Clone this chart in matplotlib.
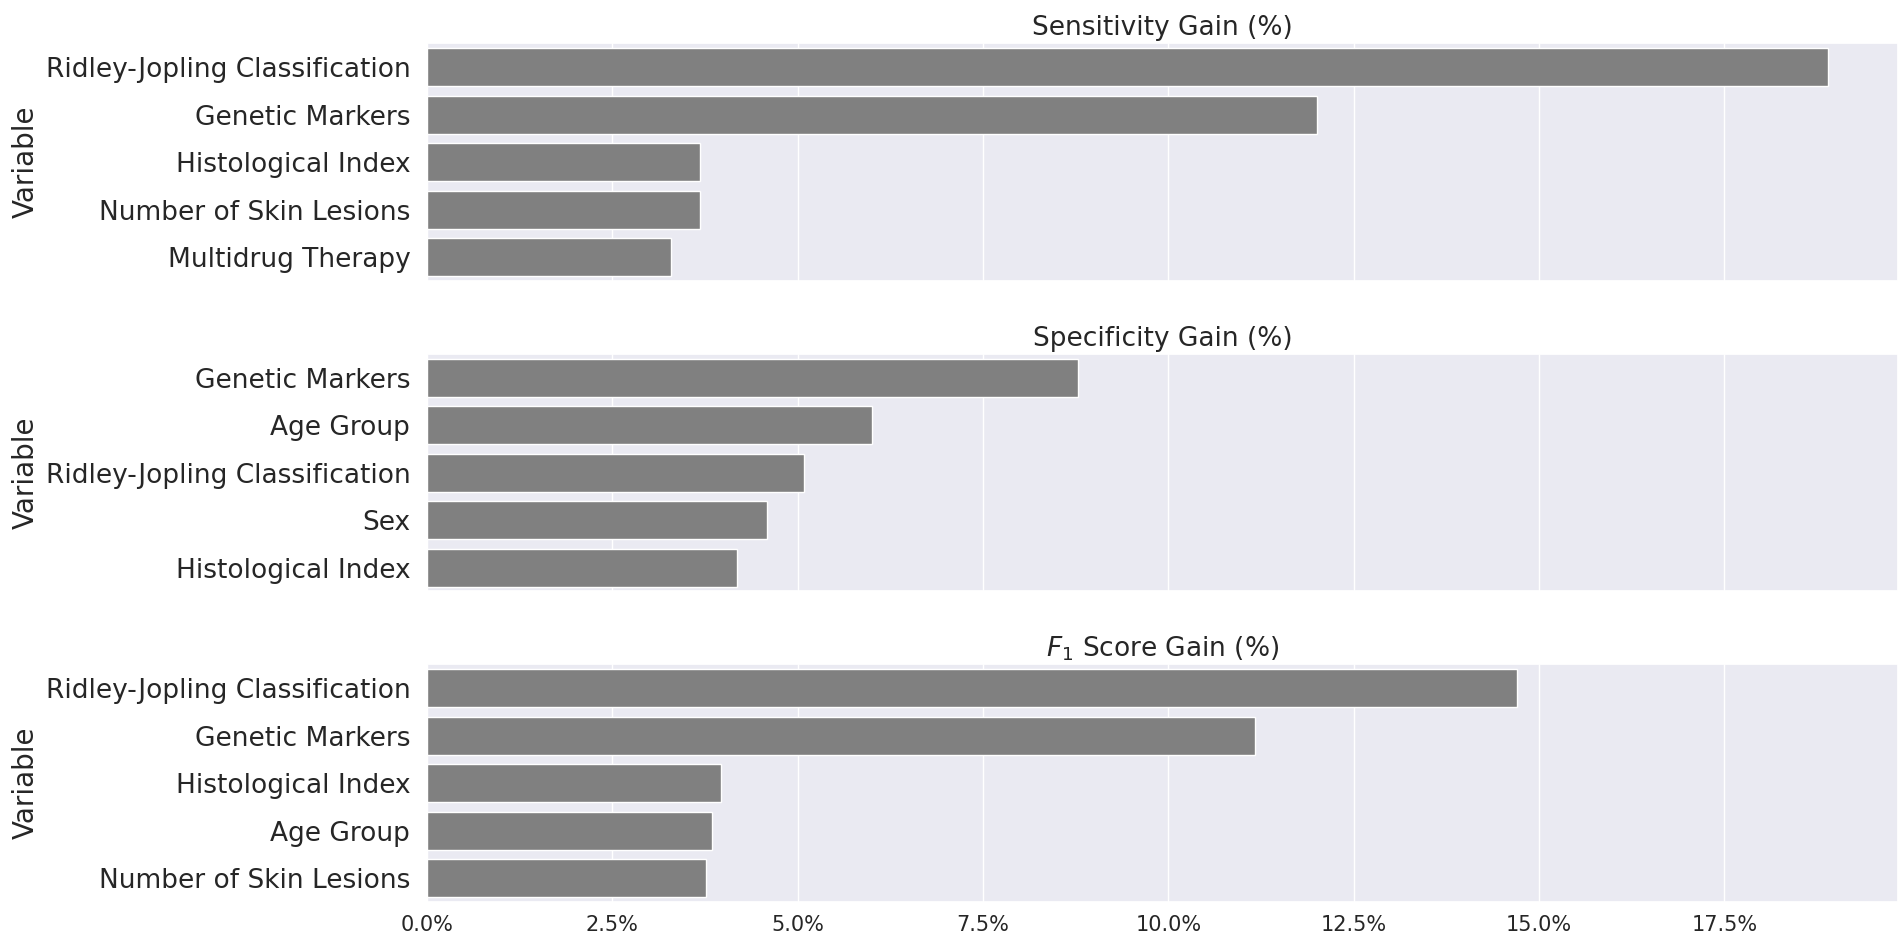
import pandas as pd
import matplotlib
matplotlib.use('Agg')
import matplotlib.pyplot as plt
import seaborn as sns
from matplotlib.ticker import PercentFormatter

# данные по трём метрикам
sens_vars = ['Ridley-Jopling Classification', 'Genetic Markers', 'Histological Index',
             'Number of Skin Lesions', 'Multidrug Therapy']
sens_gain = [18.9, 12.0, 3.68, 3.68, 3.29]

spec_vars = ['Genetic Markers', 'Age Group', 'Ridley-Jopling Classification', 'Sex',
             'Histological Index']
spec_gain = [8.78, 6.0, 5.08, 4.58, 4.18]

f1_vars = ['Ridley-Jopling Classification', 'Genetic Markers', 'Histological Index',
           'Age Group', 'Number of Skin Lesions']
f1_gain = [14.7, 11.17, 3.96, 3.85, 3.77]

titles = ['Sensitivity Gain (%)', 'Specificity Gain (%)', '$F_1$ Score Gain (%)']

sns.set_theme(style='darkgrid')
plt.rcParams['font.family'] = ['DejaVu Sans']

fig, axes = plt.subplots(3, 1, figsize=(19.02, 9.44), dpi=100, sharex=True)
fig.subplots_adjust(left=0.2245, right=0.998, top=0.954, bottom=0.0445, hspace=0.307)

panels = [(sens_vars, sens_gain), (spec_vars, spec_gain), (f1_vars, f1_gain)]
for ax, (names, vals), title in zip(axes, panels, titles):
    df = pd.DataFrame({'Variable': names, 'Gain': vals})
    sns.barplot(data=df, y='Variable', x='Gain', color='gray', ax=ax)
    ax.set_title(title, fontsize=19)
    ax.set_xlabel('')
    ax.set_ylabel('Variable', fontsize=20)
    ax.tick_params(axis='y', labelsize=19, pad=6)
    ax.tick_params(axis='x', labelsize=15)

axes[-1].xaxis.set_major_formatter(PercentFormatter(decimals=1))

fig.savefig('out.png', dpi=100)
